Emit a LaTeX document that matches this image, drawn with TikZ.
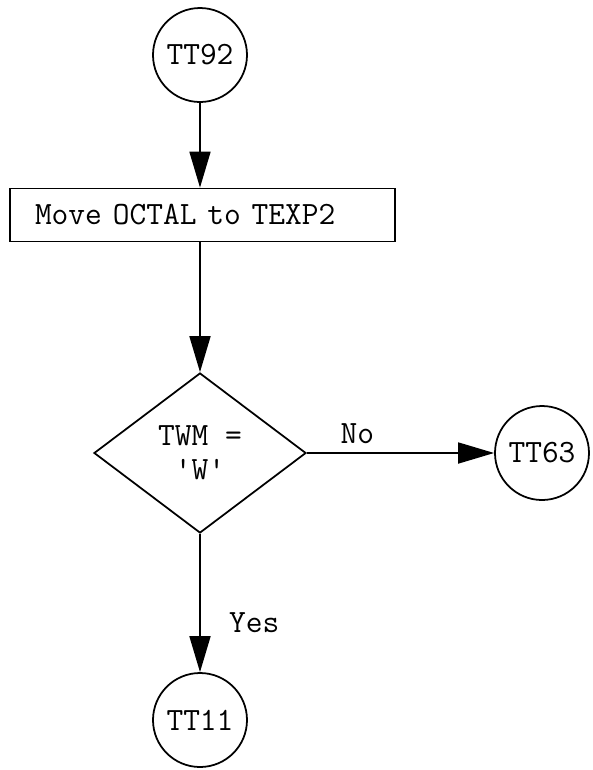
\documentclass[tikz,border=0pt]{standalone}
\usepackage{tikz}
\usetikzlibrary{shapes.geometric, arrows.meta, positioning}
\tikzset{
  termcircle/.style={
    draw, circle, line width=1pt, inner sep=0pt,
    minimum size=1.88cm, font=\ttfamily\fontsize{18.5}{21}\selectfont
  },
  procbox/.style={
    draw, rectangle, line width=1pt, align=left,
    text width=6.7cm, inner xsep=0.5cm, minimum height=1.06cm,
    font=\ttfamily\fontsize{18.5}{21}\selectfont
  },
  decisionbox/.style={
    draw, diamond, line width=1pt, inner sep=0pt, align=center,
    minimum width=4.24cm, minimum height=3.2cm,
    font=\ttfamily\fontsize{18.5}{19.5}\selectfont
  },
  flowarrow/.style={
    -{Triangle[length=7.2mm, width=4.2mm]}, line width=1pt
  },
  flowlabel/.style={
    font=\ttfamily\fontsize{18.5}{21}\selectfont
  },
}
\begin{document}
\begin{tikzpicture}
  \useasboundingbox[fill=white] (0,0) rectangle (11.86,-15.4);

  % -- entry ---------------------------------------------------------
  \node[termcircle] (tt92) at (4.0, -1.1) {TT92};

  % -- move step -----------------------------------------------------
  \node[procbox] (moveoctal) at (4.05, -4.3) {Move OCTAL to TEXP2};

  \draw[flowarrow] (tt92.south) -- (moveoctal.north -| tt92);

  % -- test ----------------------------------------------------------
  \node[decisionbox] (twmtest) at (4.0, -9.06)
    {TWM =\\\textquotesingle W\textquotesingle};

  \draw[flowarrow] (moveoctal.south -| twmtest) -- (twmtest.north);

  % -- exits ---------------------------------------------------------
  \node[termcircle] (tt63) at (10.84, -9.06) {TT63};
  \node[termcircle] (tt11) at (4.0, -14.4) {TT11};

  \draw[flowarrow] (twmtest.east) --
    node[flowlabel, above=0.05cm, pos=0.27] {No} (tt63.west);
  \draw[flowarrow] (twmtest.south) --
    node[flowlabel, right=0.45cm, pos=0.64] {Yes} (tt11.north);
\end{tikzpicture}
\end{document}
